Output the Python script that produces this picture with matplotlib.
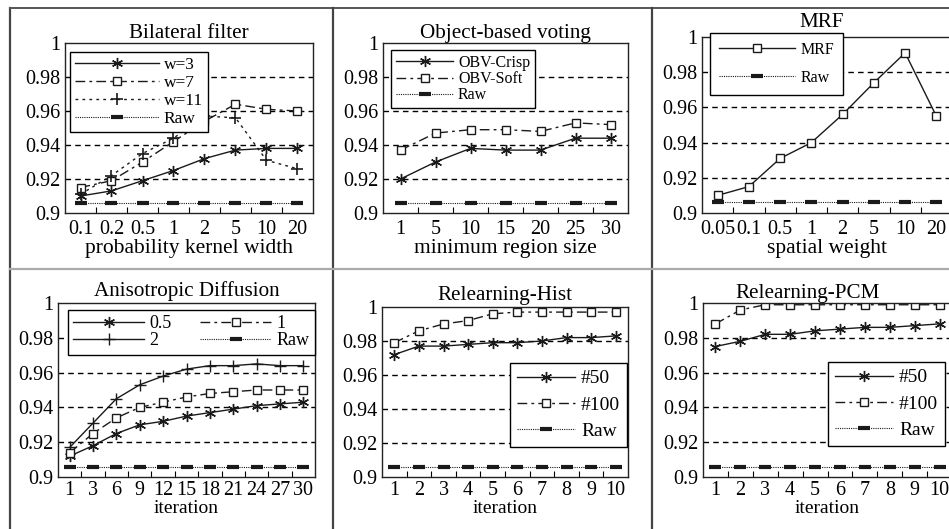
import matplotlib

matplotlib.use("Agg")

import matplotlib.pyplot as plt
import numpy as np
from matplotlib.lines import Line2D

plt.rcParams["font.family"] = ["Liberation Serif", "DejaVu Serif"]

W, H = 949, 529

# --- data -------------------------------------------------------------
bil_x = ["0.1", "0.2", "0.5", "1", "2", "5", "10", "20"]
bil_w3 = [0.910, 0.913, 0.919, 0.925, 0.932, 0.937, 0.938, 0.938]
bil_w7 = [0.915, 0.919, 0.930, 0.942, 0.954, 0.964, 0.961, 0.960]
bil_w11 = [0.911, 0.922, 0.935, 0.944, 0.957, 0.956, 0.931, 0.926]

obv_x = ["1", "5", "10", "15", "20", "25", "30"]
obv_crisp = [0.920, 0.930, 0.938, 0.937, 0.937, 0.944, 0.944]
obv_soft = [0.937, 0.947, 0.949, 0.949, 0.948, 0.953, 0.952]

mrf_x = ["0.05", "0.1", "0.5", "1", "2", "5", "10", "20"]
mrf_vals = [0.910, 0.915, 0.931, 0.940, 0.956, 0.974, 0.991, 0.955]

ad_x = ["1", "3", "6", "9", "12", "15", "18", "21", "24", "27", "30"]
ad_05 = [0.912, 0.918, 0.925, 0.930, 0.932, 0.935, 0.937, 0.939, 0.941, 0.942, 0.943]
ad_1 = [0.914, 0.925, 0.934, 0.940, 0.943, 0.946, 0.948, 0.949, 0.950, 0.950, 0.950]
ad_2 = [0.917, 0.931, 0.945, 0.953, 0.958, 0.962, 0.964, 0.964, 0.965, 0.964, 0.964]

rl_x = ["1", "2", "3", "4", "5", "6", "7", "8", "9", "10"]
hist_50 = [0.972, 0.977, 0.977, 0.978, 0.979, 0.979, 0.980, 0.982, 0.982, 0.983]
hist_100 = [0.979, 0.986, 0.990, 0.992, 0.996, 0.997, 0.997, 0.997, 0.997, 0.997]
pcm_50 = [0.975, 0.978, 0.982, 0.982, 0.984, 0.985, 0.986, 0.986, 0.987, 0.988]
pcm_100 = [0.988, 0.996, 0.999, 0.999, 0.999, 0.999, 0.999, 0.999, 0.999, 0.999]

raw_value = 0.906

y_ticks = [0.9, 0.92, 0.94, 0.96, 0.98, 1.0]
y_labels = ["0.9", "0.92", "0.94", "0.96", "0.98", "1"]

# --- styles -----------------------------------------------------------
LINE = "#1a1a1a"
STAR = dict(marker=(6, 2, 0), markersize=8, markeredgewidth=1.0, linestyle="-")
SQUARE = dict(marker="s", markersize=6, markerfacecolor="white", markeredgewidth=1.0,
              linestyle=(0, (7, 3, 2, 3)))
PLUS_DOT = dict(marker="+", markersize=9, markeredgewidth=1.2, linestyle=(0, (2, 3)))
PLUS_SOLID = dict(marker="+", markersize=9, markeredgewidth=1.0, linestyle="-")
SQUARE_SOLID = dict(marker="s", markersize=6, markerfacecolor="white", markeredgewidth=1.0,
                    linestyle="-")
RAW = dict(marker="_", markersize=9, markeredgewidth=3.0, linestyle=(0, (1, 1)),
           linewidth=0.8)


def make_axes(fig, left, right, top, bottom):
    return fig.add_axes([left / W, 1 - bottom / H, (right - left) / W, (bottom - top) / H])


def style_axes(ax, labels, title, xlabel, label_size, title_x=0.5, title_pad=3,
               tick_pad=3, labelpad=0):
    n = len(labels)
    ax.set_xlim(0, n)
    ax.set_ylim(0.9, 1.0)
    ax.set_xticks(np.arange(n) + 0.5)
    ax.set_xticklabels(labels, fontsize=14.5)
    ax.tick_params(axis="x", which="major", length=0, pad=tick_pad)
    ax.set_xticks(np.arange(1, n), minor=True)
    ax.tick_params(axis="x", which="minor", direction="in", length=4, width=0.8)
    ax.set_yticks(y_ticks)
    ax.set_yticklabels(y_labels, fontsize=14.5)
    ax.tick_params(axis="y", length=0, pad=3)
    for value in y_ticks[1:-1]:
        ax.axhline(value, color="black", linewidth=1.0, linestyle=(0, (4, 3)), zorder=0)
    for spine in ax.spines.values():
        spine.set_linewidth(1.0)
        spine.set_color("#222222")
    ax.set_title(title, fontsize=15.2, pad=title_pad, x=title_x)
    ax.set_xlabel(xlabel, fontsize=label_size, labelpad=labelpad)


def plot_series(ax, values, label, style):
    x = np.arange(len(values)) + 0.5
    kw = dict(color=LINE, linewidth=1.0)
    kw.update(style)
    ax.plot(x, values, label=label, **kw)


def plot_raw(ax, n):
    plot_series(ax, [raw_value] * n, "Raw", RAW)


def add_legend(ax, fig, x, y, fontsize, ncol=1, handlelength=3.6, loc="upper left",
               labelspacing=0.05, borderpad=0.3, columnspacing=1.2):
    leg = ax.legend(loc=loc, bbox_to_anchor=(x / W, 1 - y / H),
                    bbox_transform=fig.transFigure, borderaxespad=0,
                    fontsize=fontsize, ncol=ncol, handlelength=handlelength,
                    fancybox=False, framealpha=1, edgecolor="black",
                    borderpad=borderpad, labelspacing=labelspacing, handletextpad=0.3,
                    columnspacing=columnspacing)
    leg.get_frame().set_linewidth(1.0)
    leg.set_zorder(5)


def main():
    fig = plt.figure(figsize=(W / 100, H / 100), dpi=100)

    # Bilateral filter
    ax = make_axes(fig, 65, 313, 43, 213)
    plot_series(ax, bil_w3, "w=3", STAR)
    plot_series(ax, bil_w7, "w=7", SQUARE)
    plot_series(ax, bil_w11, "w=11", PLUS_DOT)
    plot_raw(ax, len(bil_x))
    style_axes(ax, bil_x, "Bilateral filter", "probability kernel width", 15.5,
               tick_pad=5, labelpad=0)
    add_legend(ax, fig, 70, 52, 12.5, handlelength=4.8, labelspacing=0.1)

    # Object-based voting
    ax = make_axes(fig, 383, 628, 43, 213)
    plot_series(ax, obv_crisp, "OBV-Crisp", STAR)
    plot_series(ax, obv_soft, "OBV-Soft", SQUARE)
    plot_raw(ax, len(obv_x))
    style_axes(ax, obv_x, "Object-based voting", "minimum region size", 15.5,
               tick_pad=5, labelpad=0)
    add_legend(ax, fig, 391, 50, 11.5, handlelength=3.6, labelspacing=0.02)

    # MRF
    ax = make_axes(fig, 702, 952, 37, 213)
    plot_series(ax, mrf_vals, "MRF", SQUARE_SOLID)
    plot_raw(ax, len(mrf_x))
    style_axes(ax, mrf_x, "MRF", "spatial weight", 15.5, title_x=0.48, title_pad=7,
               tick_pad=5, labelpad=0)
    add_legend(ax, fig, 710, 33, 11.5, handlelength=4.8, labelspacing=0.75,
               borderpad=0.55)

    # Anisotropic Diffusion
    ax = make_axes(fig, 58, 315, 303, 477)
    plot_series(ax, ad_05, "0.5", STAR)
    plot_series(ax, ad_2, "2", PLUS_SOLID)
    plot_series(ax, ad_1, "1", SQUARE)
    plot_raw(ax, len(ad_x))
    style_axes(ax, ad_x, "Anisotropic Diffusion", "iteration", 14, title_pad=5)
    add_legend(ax, fig, 68, 310, 13, ncol=2, handlelength=3.9, columnspacing=1.6,
               labelspacing=0.0)

    # Relearning-Hist
    ax = make_axes(fig, 382, 628, 307, 477)
    plot_series(ax, hist_50, "#50", STAR)
    plot_series(ax, hist_100, "#100", SQUARE)
    plot_raw(ax, len(rl_x))
    style_axes(ax, rl_x, "Relearning-Hist", "iteration", 14, title_pad=5)
    add_legend(ax, fig, 627, 363, 14, loc="upper right", handlelength=3.0,
               labelspacing=0.45, borderpad=0.35)

    # Relearning-PCM
    ax = make_axes(fig, 703, 952, 303, 477)
    plot_series(ax, pcm_50, "#50", STAR)
    plot_series(ax, pcm_100, "#100", SQUARE)
    plot_raw(ax, len(rl_x))
    style_axes(ax, rl_x, "Relearning-PCM", "iteration", 14, title_x=0.42)
    add_legend(ax, fig, 945, 362, 14, loc="upper right", handlelength=3.0,
               labelspacing=0.45, borderpad=0.35)

    # table-like frame around the panels
    frame = [
        ((10, 10), (8, H), "#444444", 1.6),
        ((10, W), (8, 8), "#555555", 1.4),
        ((333, 333), (8, H), "#444444", 1.6),
        ((652, 652), (8, H), "#444444", 1.6),
        ((10, W), (269, 269), "#aaaaaa", 1.6),
    ]
    for xs, ys, color, lw in frame:
        fig.add_artist(Line2D([x / W for x in xs], [1 - y / H for y in ys],
                              color=color, linewidth=lw, transform=fig.transFigure))

    fig.savefig("out.png", dpi=100, facecolor="white")
    plt.close(fig)


if __name__ == "__main__":
    main()
